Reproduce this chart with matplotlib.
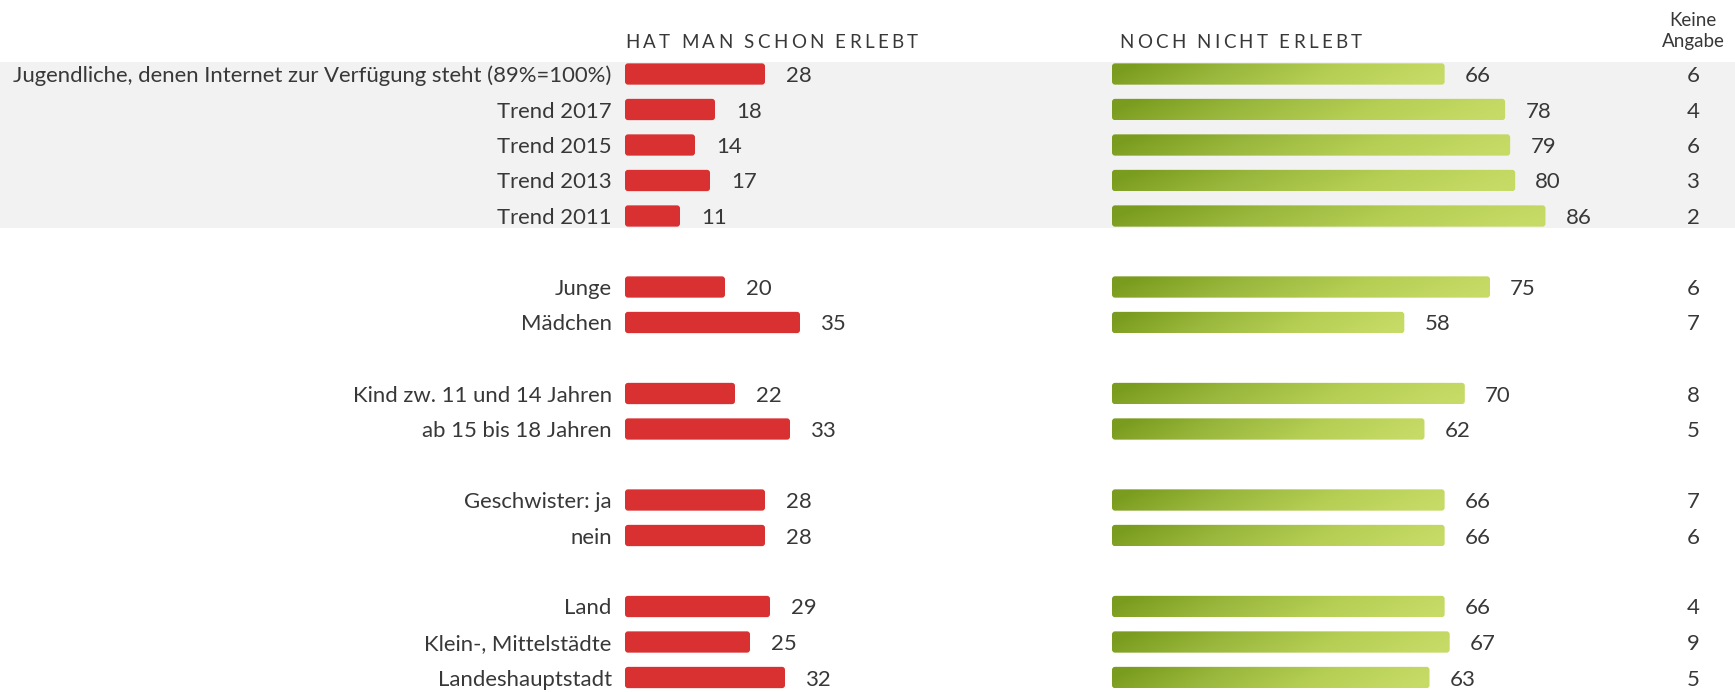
import numpy as np
import matplotlib
matplotlib.use("Agg")
import matplotlib.pyplot as plt
from matplotlib.patches import FancyBboxPatch
from matplotlib.colors import LinearSegmentedColormap

plt.rcParams['font.family'] = ['Lato', 'DejaVu Sans']

labels = ["Jugendliche, denen Internet zur Verfügung steht (89%=100%)",
          "Trend 2017", "Trend 2015", "Trend 2013", "Trend 2011",
          "Junge", "Mädchen",
          "Kind zw. 11 und 14 Jahren", "ab 15 bis 18 Jahren",
          "Geschwister: ja", "nein",
          "Land", "Klein-, Mittelstädte", "Landeshauptstadt"]
erlebt = [28, 18, 14, 17, 11, 20, 35, 22, 33, 28, 28, 29, 25, 32]
nicht_erlebt = [66, 78, 79, 80, 86, 75, 58, 70, 62, 66, 66, 66, 67, 63]
keine_angabe = [6, 4, 6, 3, 2, 6, 7, 8, 5, 7, 6, 4, 9, 5]
group_sizes = [5, 2, 2, 2, 3]

header_left = "HAT MAN SCHON ERLEBT"
header_right = "NOCH NICHT ERLEBT"
header_keine = "Keine\nAngabe"

TXT = '#383838'
RED = '#d93131'
FS = 15.9
W, H = 1735, 692

# row positions: groups separated by one empty slot
ypos = []
s = 0
for g in group_sizes:
    for i in range(g):
        ypos.append(s)
        s += 1
    s += 1
ypos = np.array(ypos, dtype=float)

# slot 0 centre at 74px, slot step 35.5px
step, y0 = 35.5, 74.0
ylim = ((H - y0) / step, (0 - y0) / step)
bar_h = 0.6

fig = plt.figure(figsize=(W / 100, H / 100), dpi=100)
fig.patch.set_facecolor('white')

bg = fig.add_axes([0, 0, 1, 1])
bg.set_xlim(0, W)
bg.set_ylim(*ylim)
bg.axis('off')
bg.axhspan(-bar_h / 2 - 0.04, 4 + bar_h / 2 + 0.04, color='#f2f2f2', zorder=0, lw=0)

ax_r = fig.add_axes([625 / W, 0, 400 / W, 1])
ax_r.set_xlim(0, 80)
ax_r.set_ylim(*ylim)
ax_r.axis('off')

ax_g = fig.add_axes([1112 / W, 0, 504 / W, 1])
ax_g.set_xlim(0, 100)
ax_g.set_ylim(*ylim)
ax_g.axis('off')


def rounded_bar(ax, x, y, w, h, px_per_x, **kw):
    aspect = (1 / step) / (1 / px_per_x)
    p = FancyBboxPatch((x, y - h / 2), w, h,
                       boxstyle="round,pad=0,rounding_size=%f" % (3.0 / px_per_x),
                       mutation_aspect=aspect, **kw)
    ax.add_patch(p)
    return p


# red bars
for y, v, lab in zip(ypos, erlebt, labels):
    rounded_bar(ax_r, 0, y, v, bar_h, 5.0, facecolor=RED, edgecolor='none', zorder=2)
    ax_r.annotate(str(v), (v, y), xytext=(15, 0), textcoords='offset points',
                  ha='left', va='center_baseline', fontsize=FS, color=TXT)
    ax_r.annotate(lab, (0, y), xytext=(-9.5, 0), textcoords='offset points',
                  ha='right', va='center_baseline', fontsize=FS, color=TXT,
                  annotation_clip=False)

# green gradient bars
cmap = LinearSegmentedColormap.from_list('grn', ['#7a9c1e', '#9bb93e', '#b7cf55', '#c6db66'])
gx = np.linspace(0, 1, 256)
gy = np.linspace(0, 1, 16)
grad = np.clip(gx[None, :] + 0.12 * (gy[:, None] - 0.5), 0, 1)
for y, v in zip(ypos, nicht_erlebt):
    p = rounded_bar(ax_g, 0, y, v, bar_h, 5.04, facecolor='none', edgecolor='none', zorder=2)
    im = ax_g.imshow(grad, cmap=cmap, extent=(0, v, y + bar_h / 2, y - bar_h / 2),
                     aspect='auto', zorder=2, interpolation='bilinear')
    im.set_clip_path(p)
    ax_g.annotate(str(v), (v, y), xytext=(14.5, 0), textcoords='offset points',
                  ha='left', va='center_baseline', fontsize=FS, color=TXT)
ax_g.set_xlim(0, 100)
ax_g.set_ylim(*ylim)

# keine angabe column
for y, v in zip(ypos, keine_angabe):
    bg.text(1693, y, str(v), ha='center', va='center_baseline', fontsize=FS, color=TXT)

bg.text(1693, (31 - y0) / step, header_keine, ha='center', va='center',
        fontsize=13.5, color=TXT, linespacing=1.25)


def tracked_text(ax, x, y, s, track, **kw):
    renderer = fig.canvas.get_renderer()
    probe = ax.text(0, 0, "|", **kw)
    wbar = probe.get_window_extent(renderer).width
    probe.remove()
    for i, ch in enumerate(s):
        if ch == ' ':
            continue
        t = ax.text(0, 0, s[:i] + "|", **kw)
        wpre = t.get_window_extent(renderer).width - wbar
        t.remove()
        ax.text(x + wpre + i * track, y, ch, ha='left', va='center_baseline', **kw)


tracked_text(bg, 625, (41 - y0) / step, header_left, 3.3, fontsize=13.5, color=TXT)
tracked_text(bg, 1119, (41 - y0) / step, header_right, 3.3, fontsize=13.5, color=TXT)

fig.savefig('out.png', dpi=100, facecolor='white')
